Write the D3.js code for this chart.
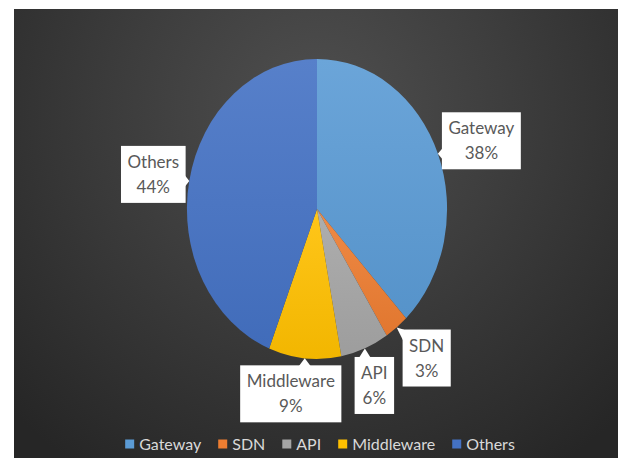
<!DOCTYPE html>
<html>
<head>
<meta charset="utf-8">
<script src="https://cdn.jsdelivr.net/npm/d3@7"></script>
<style>
  html, body { margin: 0; padding: 0; background: #ffffff; }
  svg { display: block; }
  text { font-family: Lato, "Open Sans", "Liberation Sans", sans-serif; }
</style>
</head>
<body>
<svg id="chart" width="622" height="458"></svg>
<script>
// Share of each category (percent)
const categories = ["Gateway", "SDN", "API", "Middleware", "Others"];
const shares = [38, 3, 6, 9, 44];
const colors = ["#5B9BD5", "#ED7D31", "#A5A5A5", "#FFC000", "#4472C4"];

// Callout box placement relative to the slice's rim point
const calloutOffset = {
  Gateway: [43.5, -13],
  SDN: [30, 30.5],
  API: [9.5, 37],
  Middleware: [-14, 35.5],
  Others: [-36, -6.5]
};

const svg = d3.select("#chart");
const frame = { x: 14, y: 9, w: 604, h: 449 };
const cx = 317, cy = 209, rx = 130, ry = 150;

const defs = svg.append("defs");

// Dark radial backdrop
const bg = defs.append("radialGradient").attr("id", "bg")
  .attr("gradientUnits", "userSpaceOnUse")
  .attr("cx", 318).attr("cy", 110).attr("r", 430);
bg.append("stop").attr("offset", "0%").attr("stop-color", "#4f4f4f");
bg.append("stop").attr("offset", "45%").attr("stop-color", "#3d3d3d");
bg.append("stop").attr("offset", "100%").attr("stop-color", "#262626");

svg.append("rect")
  .attr("x", frame.x).attr("y", frame.y)
  .attr("width", frame.w).attr("height", frame.h)
  .attr("fill", "url(#bg)");

// Slice gradients, lighter at top
categories.forEach((c, i) => {
  const g = defs.append("linearGradient").attr("id", "grad" + i)
    .attr("x1", 0).attr("y1", 0).attr("x2", 0).attr("y2", 1);
  g.append("stop").attr("offset", "0%")
    .attr("stop-color", d3.interpolateRgb(colors[i], "#ffffff")(0.1));
  g.append("stop").attr("offset", "100%")
    .attr("stop-color", d3.interpolateRgb(colors[i], "#000000")(0.05));
});

const data = categories.map((c, i) => ({ name: c, value: shares[i], i }));
const pie = d3.pie().value(d => d.value).sort(null);
const arcs = pie(data);
const arc = d3.arc().innerRadius(0).outerRadius(1);

const pieG = svg.append("g")
  .attr("transform", `translate(${cx},${cy}) scale(${rx},${ry})`);

pieG.selectAll("path")
  .data(arcs)
  .join("path")
  .attr("d", arc)
  .attr("fill", d => `url(#grad${d.data.i})`);

// Callout labels
const labelG = svg.append("g");
const fontSize = 17, lineGap = 25, padX = 6.5, boxH = 57;

arcs.forEach(a => {
  const mid = (a.startAngle + a.endAngle) / 2;
  const tip = [cx + rx * Math.sin(mid), cy - ry * Math.cos(mid)];
  const off = calloutOffset[a.data.name];
  const bcx = tip[0] + off[0], bcy = tip[1] + off[1];

  const g = labelG.append("g");
  const lines = [a.data.name, a.data.value + "%"];
  const texts = lines.map((t, k) => g.append("text")
    .attr("x", bcx)
    .attr("y", bcy - lineGap / 2 + k * lineGap)
    .attr("dy", "0.36em")
    .attr("text-anchor", "middle")
    .attr("font-size", fontSize)
    .attr("fill", "#595959")
    .text(t));
  const tw = d3.max(texts, t => t.node().getComputedTextLength());
  const bw = tw + 2 * padX;
  const bx = bcx - bw / 2, by = bcy - boxH / 2;

  // pointer triangle on the edge facing the slice
  const half = 6;
  let pts;
  if (tip[0] < bx) {
    const yy = Math.max(by + half, Math.min(by + boxH - half, tip[1]));
    pts = [[bx + 1, yy - half], tip, [bx + 1, yy + half]];
  } else if (tip[0] > bx + bw) {
    const yy = Math.max(by + half, Math.min(by + boxH - half, tip[1]));
    pts = [[bx + bw - 1, yy - half], tip, [bx + bw - 1, yy + half]];
  } else if (tip[1] < by) {
    const xx = Math.max(bx + half, Math.min(bx + bw - half, tip[0]));
    pts = [[xx - half, by + 1], tip, [xx + half, by + 1]];
  } else {
    const xx = Math.max(bx + half, Math.min(bx + bw - half, tip[0]));
    pts = [[xx - half, by + boxH - 1], tip, [xx + half, by + boxH - 1]];
  }

  g.insert("polygon", "text")
    .attr("points", pts.map(p => p.join(",")).join(" "))
    .attr("fill", "#ffffff");
  g.insert("rect", "text")
    .attr("x", bx).attr("y", by)
    .attr("width", bw).attr("height", boxH)
    .attr("fill", "#ffffff");
});

// Legend
const legend = svg.append("g");
const sw = 9, swGap = 5, itemGap = 17, legendY = 444, legendFont = 16;
const items = categories.map((c, i) => {
  const g = legend.append("g");
  g.append("rect").attr("width", sw).attr("height", sw)
    .attr("y", legendY - sw / 2).attr("fill", colors[i]);
  const t = g.append("text")
    .attr("x", sw + swGap).attr("y", legendY).attr("dy", "0.36em")
    .attr("font-size", legendFont).attr("fill", "#d9d9d9").text(c);
  return { g, w: sw + swGap + t.node().getComputedTextLength() };
});
const total = d3.sum(items, d => d.w) + itemGap * (items.length - 1);
let x0 = 320 - total / 2;
items.forEach(it => {
  it.g.attr("transform", `translate(${x0},0)`);
  x0 += it.w + itemGap;
});
</script>
</body>
</html>
